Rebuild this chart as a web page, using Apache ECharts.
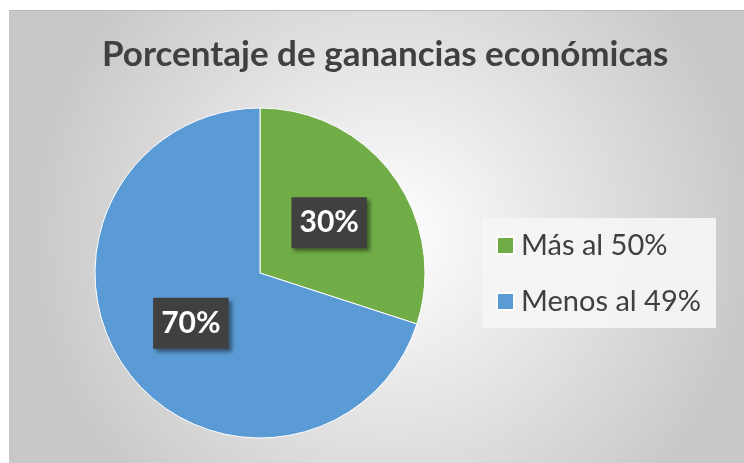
<!DOCTYPE html>
<html>
<head>
<meta charset="utf-8">
<script src="https://cdn.jsdelivr.net/npm/echarts@6/dist/echarts.min.js"></script>
<style>
  html, body { margin: 0; padding: 0; background: #fff; }
  #chart { width: 744px; height: 463px; }
</style>
</head>
<body>
<div id="chart"></div>
<script>
var categories = ["Más al 50%", "Menos al 49%"];
var values = [30, 70];
var colors = ["#70AD47", "#5B9BD5"];

var chart = echarts.init(document.getElementById("chart"), null, { renderer: "canvas" });

var pieData = categories.map(function (name, i) {
  return { name: name, value: values[i], itemStyle: { color: colors[i] } };
});

var option = {
  animation: false,
  graphic: [
    {
      type: "rect",
      z: -10,
      silent: true,
      shape: { x: 9, y: 10, width: 735, height: 453 },
      style: {
        fill: {
          type: "radial",
          x: 0.52, y: 0.5, r: 0.8,
          colorStops: [
            { offset: 0, color: "#ffffff" },
            { offset: 1, color: "#c8c8c8" }
          ]
        }
      }
    },
    {
      type: "line",
      z: -9,
      silent: true,
      shape: { x1: 9, y1: 10.5, x2: 744, y2: 10.5 },
      style: { stroke: "#b8b8b8", lineWidth: 1 }
    }
  ],
  title: {
    text: "Porcentaje de ganancias económicas",
    left: 97,
    top: 32,
    textStyle: {
      fontFamily: "Lato",
      fontSize: 35,
      fontWeight: "bold",
      color: "#404040"
    }
  },
  legend: {
    orient: "vertical",
    left: 482,
    top: 218,
    padding: [13, 15, 12, 14],
    itemGap: 27,
    itemWidth: 17,
    itemHeight: 17,
    icon: "rect",
    backgroundColor: "rgba(244,244,244,0.95)",
    data: categories,
    textStyle: {
      fontFamily: "Lato",
      fontSize: 29,
      color: "#404040",
      padding: [0, 0, 0, 2]
    }
  },
  series: [
    {
      type: "pie",
      center: [260, 273],
      radius: 165,
      startAngle: 90,
      clockwise: true,
      data: pieData,
      itemStyle: { borderColor: "#ffffff", borderWidth: 1 },
      label: {
        show: true,
        position: "inside",
        formatter: "{d}%",
        fontFamily: "Lato",
        fontSize: 30,
        fontWeight: "bold",
        color: "#ffffff",
        backgroundColor: "#404040",
        padding: [11, 8, 10, 8],
        shadowColor: "rgba(0,0,0,0.45)",
        shadowBlur: 4,
        shadowOffsetX: 3,
        shadowOffsetY: 3
      },
      labelLine: { show: false },
      emphasis: { disabled: true }
    }
  ]
};

chart.setOption(option);
</script>
</body>
</html>
